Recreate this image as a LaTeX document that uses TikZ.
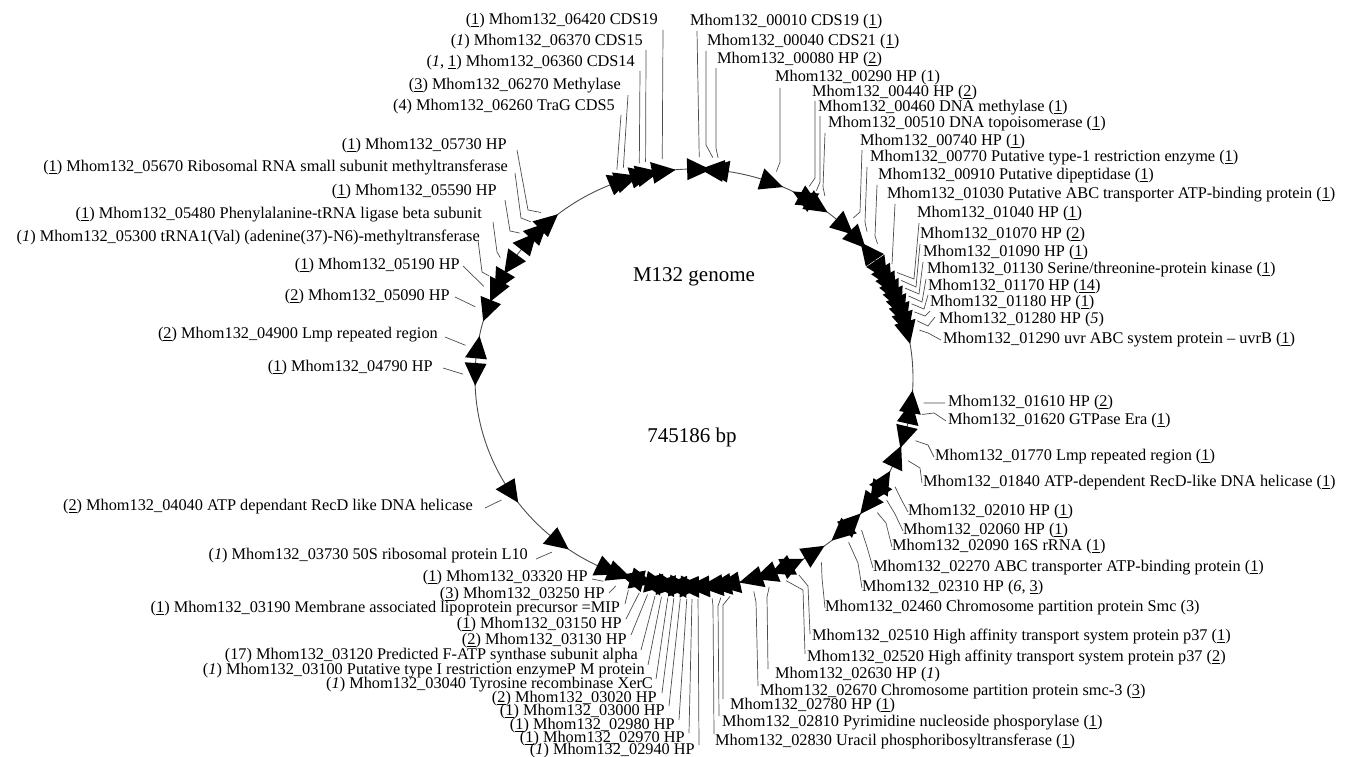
\documentclass[tikz,border=0pt]{standalone}
\usepackage{fontspec}
\setmainfont{Liberation Serif}
\usetikzlibrary{calc}
\newcommand\unum[1]{\underline{#1}}
\newcommand\inum[1]{\textit{#1}}
\newcommand\garrow[3]{%
  \fill[gene] ($(C)+({#2+(#3)*3.1}:219 and 209)$) -- ($(C)+({#2-(#3)*3.1}:230 and 220)$) -- ($(C)+({#2-(#3)*3.1}:208 and 198)$) -- cycle;
  \coordinate (o#1) at ($(C)+(#2:231 and 221)$);}
\begin{document}
\begin{tikzpicture}[x=1pt,y=-1pt,
  gene/.style={fill=black},
  ring/.style={draw=black!70,line width=0.9pt},
  lead/.style={draw=black!70,line width=0.7pt},
  lbl/.style={inner sep=0pt,font=\fontsize{16.3}{17}\selectfont},
  big/.style={inner sep=0pt,font=\fontsize{21}{24}\selectfont}]
\useasboundingbox (0,0) rectangle (1347,757);
\coordinate (C) at (694,378);
\draw[ring] (C) ellipse [x radius=219pt, y radius=209pt];
\node[big] (title) at (694,277) {M132 genome};
\node[big] (size) at (692,437) {745186 bp};
% genes
\garrow{06260}{-109.5}{1}
\garrow{06270}{-107.8}{1}
\garrow{06360}{-103.7}{1}
\garrow{06370}{-102.1}{1}
\garrow{06420}{-97.9}{1}
\garrow{00010}{-88.7}{1}
\garrow{00040}{-85.3}{-1}
\garrow{00080}{-84}{-1}
\garrow{00290}{-69.1}{1}
\garrow{00440}{-60.1}{-1}
\garrow{00460}{-58}{1}
\garrow{00510}{-55.5}{1}
\garrow{00740}{-46.4}{1}
\garrow{00770}{-41.5}{1}
\garrow{00910}{-37.4}{-1}
\garrow{01030}{-31}{1}
\garrow{01040}{-28.5}{1}
\garrow{01070}{-26.2}{1}
\garrow{01090}{-24}{1}
\garrow{01130}{-21.8}{1}
\garrow{01170}{-19.6}{1}
\garrow{01180}{-17.4}{1}
\garrow{01280}{-15}{1}
\garrow{01290}{-12.5}{1}
\garrow{01610}{6.5}{-1}
\garrow{01620}{9.5}{-1}
\garrow{01770}{16.5}{1}
\garrow{01840}{22}{-1}
\garrow{02010}{29.5}{-1}
\garrow{02060}{33.5}{1}
\garrow{02090}{37.5}{1}
\garrow{02270}{43.5}{-1}
\garrow{02310}{48}{1}
\garrow{02460}{56.5}{-1}
\garrow{02510}{63}{-1}
\garrow{02520}{66.5}{1}
\garrow{02630}{71}{1}
\garrow{02670}{75}{1}
\garrow{02780}{81}{1}
\garrow{02810}{83.3}{1}
\garrow{02830}{85.5}{1}
\garrow{02940}{89}{1}
\garrow{02970}{90.5}{-1}
\garrow{02980}{91.8}{1}
\garrow{03000}{93.4}{-1}
\garrow{03020}{95}{1}
\garrow{03040}{96.5}{-1}
\garrow{03100}{98.1}{1}
\garrow{03120}{99.7}{-1}
\garrow{03130}{101.6}{1}
\garrow{03150}{103.7}{-1}
\garrow{03190}{106.5}{1}
\garrow{03250}{109.8}{-1}
\garrow{03320}{113.1}{-1}
\garrow{03730}{128}{-1}
\garrow{04040}{146.5}{-1}
\garrow{04790}{181}{-1}
\garrow{04900}{188.5}{1}
\garrow{05090}{198.8}{-1}
\garrow{05190}{204.5}{-1}
\garrow{05300}{207.5}{-1}
\garrow{05480}{213}{-1}
\garrow{05590}{221}{1}
\garrow{05670}{225}{1}
\garrow{05730}{228.5}{1}
% labels top-left
\node[lbl,anchor=east] (l06420) at (658,21) {(\unum{1}) Mhom132\_06420 CDS19};
\node[lbl,anchor=east] (l06370) at (643,42) {(\inum{1}) Mhom132\_06370 CDS15};
\node[lbl,anchor=east] (l06360) at (635,63) {(\inum{1}, \unum{1}) Mhom132\_06360 CDS14};
\node[lbl,anchor=east] (l06270) at (621,86) {(\unum{3}) Mhom132\_06270 Methylase};
\node[lbl,anchor=east] (l06260) at (615,107) {(4) Mhom132\_06260 TraG CDS5};
% labels top-right
\node[lbl,anchor=west] (l00010) at (690,22) {Mhom132\_00010 CDS19 (\unum{1})};
\node[lbl,anchor=west] (l00040) at (707,42) {Mhom132\_00040 CDS21 (\unum{1})};
\node[lbl,anchor=west] (l00080) at (717,60) {Mhom132\_00080 HP (\unum{2})};
\node[lbl,anchor=west] (l00290) at (775,78) {Mhom132\_00290 HP (1)};
\node[lbl,anchor=west] (l00440) at (812,93) {Mhom132\_00440 HP (\unum{2})};
\node[lbl,anchor=west] (l00460) at (818,108) {Mhom132\_00460 DNA methylase (\unum{1})};
\node[lbl,anchor=west] (l00510) at (828,124) {Mhom132\_00510 DNA topoisomerase (\unum{1})};
\node[lbl,anchor=west] (l00740) at (860,142) {Mhom132\_00740 HP (\unum{1})};
\node[lbl,anchor=west] (l00770) at (870,158) {Mhom132\_00770 Putative type-1 restriction enzyme (\unum{1})};
\node[lbl,anchor=west] (l00910) at (878,176) {Mhom132\_00910 Putative dipeptidase (\unum{1})};
\node[lbl,anchor=west] (l01030) at (887,195) {Mhom132\_01030 Putative ABC transporter ATP-binding protein (\unum{1})};
\node[lbl,anchor=west] (l01040) at (917,214) {Mhom132\_01040 HP (\unum{1})};
\node[lbl,anchor=west] (l01070) at (920,235) {Mhom132\_01070 HP (\unum{2})};
\node[lbl,anchor=west] (l01090) at (923,253) {Mhom132\_01090 HP (\unum{1})};
\node[lbl,anchor=west] (l01130) at (927,270) {Mhom132\_01130 Serine/threonine-protein kinase (\unum{1})};
\node[lbl,anchor=west] (l01170) at (928,287) {Mhom132\_01170 HP (\unum{14})};
\node[lbl,anchor=west] (l01180) at (930,303) {Mhom132\_01180 HP (\unum{1})};
\node[lbl,anchor=west] (l01280) at (939,320) {Mhom132\_01280 HP (\inum{5})};
\node[lbl,anchor=west] (l01290) at (943,340) {Mhom132\_01290 uvr ABC system protein -- uvrB (\unum{1})};
% labels right-lower
\node[lbl,anchor=west] (l01610) at (948,403) {Mhom132\_01610 HP (\unum{2})};
\node[lbl,anchor=west] (l01620) at (948,421) {Mhom132\_01620 GTPase Era (\unum{1})};
\node[lbl,anchor=west] (l01770) at (935,457) {Mhom132\_01770 Lmp repeated region (\unum{1})};
\node[lbl,anchor=west] (l01840) at (923,483) {Mhom132\_01840 ATP-dependent RecD-like DNA helicase (\unum{1})};
\node[lbl,anchor=west] (l02010) at (908,512) {Mhom132\_02010 HP (\unum{1})};
\node[lbl,anchor=west] (l02060) at (903,531) {Mhom132\_02060 HP (\unum{1})};
\node[lbl,anchor=west] (l02090) at (892,547) {Mhom132\_02090 16S rRNA (\unum{1})};
\node[lbl,anchor=west] (l02270) at (873,568) {Mhom132\_02270 ABC transporter ATP-binding protein (\unum{1})};
\node[lbl,anchor=west] (l02310) at (862,588) {Mhom132\_02310 HP (\inum{6}, \unum{3})};
\node[lbl,anchor=west] (l02460) at (825,608) {Mhom132\_02460 Chromosome partition protein Smc (3)};
\node[lbl,anchor=west] (l02510) at (812,637) {Mhom132\_02510 High affinity transport system protein p37 (\unum{1})};
\node[lbl,anchor=west] (l02520) at (807,658) {Mhom132\_02520 High affinity transport system protein p37 (\unum{2})};
\node[lbl,anchor=west] (l02630) at (775,675) {Mhom132\_02630 HP (\inum{1})};
\node[lbl,anchor=west] (l02670) at (760,692) {Mhom132\_02670 Chromosome partition protein smc-3 (\unum{3})};
\node[lbl,anchor=west] (l02780) at (730,706) {Mhom132\_02780 HP (\unum{1})};
\node[lbl,anchor=west] (l02810) at (722,723) {Mhom132\_02810 Pyrimidine nucleoside phosporylase (\unum{1})};
\node[lbl,anchor=west] (l02830) at (715,742) {Mhom132\_02830 Uracil phosphoribosyltransferase (\unum{1})};
% labels left
\node[lbl,anchor=east] (l05730) at (507,146) {(\unum{1}) Mhom132\_05730 HP};
\node[lbl,anchor=east] (l05670) at (508,168) {(\unum{1}) Mhom132\_05670 Ribosomal RNA small subunit methyltransferase};
\node[lbl,anchor=east] (l05590) at (497,192) {(\unum{1}) Mhom132\_05590 HP};
\node[lbl,anchor=east] (l05480) at (482,215) {(\unum{1}) Mhom132\_05480 Phenylalanine-tRNA ligase beta subunit};
\node[lbl,anchor=east] (l05300) at (480,238) {(\inum{1}) Mhom132\_05300 tRNA1(Val) (adenine(37)-N6)-methyltransferase};
\node[lbl,anchor=east] (l05190) at (460,266) {(\unum{1}) Mhom132\_05190 HP};
\node[lbl,anchor=east] (l05090) at (450,297) {(\unum{2}) Mhom132\_05090 HP};
\node[lbl,anchor=east] (l04900) at (438,335) {(\unum{2}) Mhom132\_04900 Lmp repeated region};
\node[lbl,anchor=east] (l04790) at (433,368) {(\unum{1}) Mhom132\_04790 HP};
\node[lbl,anchor=east] (l04040) at (473,507) {(\unum{2}) Mhom132\_04040 ATP dependant RecD like DNA helicase};
\node[lbl,anchor=east] (l03730) at (528,556) {(\inum{1}) Mhom132\_03730 50S ribosomal protein L10};
% labels bottom
\node[lbl,anchor=east] (l03320) at (588,578) {(\unum{1}) Mhom132\_03320 HP};
\node[lbl,anchor=east] (l03250) at (605,595) {(\unum{3}) Mhom132\_03250 HP};
\node[lbl,anchor=east] (l03190) at (620,609) {(\unum{1}) Mhom132\_03190 Membrane associated lipoprotein precursor =MIP};
\node[lbl,anchor=east] (l03150) at (622,625) {(\unum{1}) Mhom132\_03150 HP};
\node[lbl,anchor=east] (l03130) at (627,641) {(\unum{2}) Mhom132\_03130 HP};
\node[lbl,anchor=east] (l03120) at (638,656) {(17) Mhom132\_03120 Predicted F-ATP synthase subunit alpha};
\node[lbl,anchor=east] (l03100) at (645,671) {(\inum{1}) Mhom132\_03100 Putative type I restriction enzymeP M protein};
\node[lbl,anchor=east] (l03040) at (653,685) {(\inum{1}) Mhom132\_03040 Tyrosine recombinase XerC};
\node[lbl,anchor=east] (l03020) at (657,699) {(\unum{2}) Mhom132\_03020 HP};
\node[lbl,anchor=east] (l03000) at (665,712) {(\unum{1}) Mhom132\_03000 HP};
\node[lbl,anchor=east] (l02980) at (675,726) {(\unum{1}) Mhom132\_02980 HP};
\node[lbl,anchor=east] (l02970) at (685,739) {(\unum{1}) Mhom132\_02970 HP};
\node[lbl,anchor=east] (l02940) at (695,751) {(\inum{1}) Mhom132\_02940 HP};
% leaders top-left
\draw[lead] ($(l06420.east)+(5,9)$) -- (o06420);
\draw[lead] ($(l06370.east)+(3,8)$) -- (o06370);
\draw[lead] ($(l06360.east)+(5,8)$) -- (o06360);
\draw[lead] ($(l06270.east)+(7,9)$) -- (o06270);
\draw[lead] ($(l06260.east)+(6,8)$) -- (o06260);
% leaders top-right
\draw[lead] ($(l00010.west)+(7,9)$) -- (o00010);
\draw[lead] ($(l00040.west)+(-1,9)$) -- (706,145) -- (o00040);
\draw[lead] ($(l00080.west)+(-1,8)$) -- (716,148) -- (o00080);
\draw[lead] ($(l00290.west)+(5,10)$) -- (780,162) -- (o00290);
\draw[lead] ($(l00440.west)+(3,8)$) -- (815,178) -- (o00440);
\draw[lead] ($(l00460.west)+(2,8)$) -- (820,182) -- (o00460);
\draw[lead] ($(l00510.west)+(-3,9)$) -- (823,187) -- (o00510);
\draw[lead] ($(l00740.west)+(2,8)$) -- (860,212) -- (o00740);
\draw[lead] ($(l00770.west)+(-3,9)$) -- (865,222) -- (o00770);
\draw[lead] ($(l00910.west)+(-1,9)$) -- (875,236) -- (o00910);
\draw[lead] ($(l01030.west)+(8,9)$) -- (o01030);
\draw[lead] ($(l01040.west)+(2,9)$) -- (914,279) -- (o01040);
\draw[lead] ($(l01070.west)+(0,9)$) -- (916,287) -- (o01070);
\draw[lead] ($(l01090.west)+(0,9)$) -- (919,294) -- (o01090);
\draw[lead] ($(l01130.west)+(-1,9)$) -- (922,302) -- (o01130);
\draw[lead] ($(l01170.west)+(0,8)$) -- (924,309) -- (o01170);
\draw[lead] ($(l01180.west)+(0,8)$) -- (925,316) -- (o01180);
\draw[lead] ($(l01280.west)+(-4,-3)$) -- (928,326) -- (o01280);
\draw[lead] ($(l01290.west)+(-2,0)$) -- (928,333) -- (o01290);
% leaders right-lower
\draw[lead] ($(l01610.west)+(-3,0)$) -- (o01610);
\draw[lead] ($(l01620.west)+(-2,0)$) -- (934,413) -- (o01620);
\draw[lead] ($(l01770.west)+(-1,0)$) -- (928,445) -- (o01770);
\draw[lead] ($(l01840.west)+(-1,0)$) -- (920,468) -- (o01840);
\draw[lead] (l02010.west) -- (901,499) -- (o02010);
\draw[lead] (l02060.west) -- (895,514) -- (o02060);
\draw[lead] (l02090.west) -- (886,523) -- (o02090);
\draw[lead] (l02270.west) -- (867,547) -- (o02270);
\draw[lead] (l02310.west) -- (858,563) -- (o02310);
\draw[lead] (l02460.west) -- (822,578) -- (o02460);
\draw[lead] ($(l02510.west)+(-2,-3)$) -- (808,586) -- (o02510);
\draw[lead] ($(l02520.west)+(-2,-4)$) -- (803,590) -- (o02520);
\draw[lead] ($(l02630.west)+(-7,-6)$) -- (767,597) -- (o02630);
\draw[lead] ($(l02670.west)+(-2,-6)$) -- (756,602) -- (o02670);
\draw[lead] ($(l02780.west)+(-7,-7)$) -- (723,605) -- (o02780);
\draw[lead] ($(l02810.west)+(-3,-7)$) -- (718,606) -- (o02810);
\draw[lead] ($(l02830.west)+(-1,-8)$) -- (713,606) -- (o02830);
% leaders left
\draw[lead] ($(l05730.east)+(10,4)$) -- (528,210) -- (o05730);
\draw[lead] ($(l05670.east)+(7,5)$) -- (521,218) -- (o05670);
\draw[lead] ($(l05590.east)+(8,8)$) -- (510,231) -- (o05590);
\draw[lead] ($(l05480.east)+(11,7)$) -- (497,252) -- (o05480);
\draw[lead] ($(l05300.east)+(-2,2)$) -- (482,272) -- (o05300);
\draw[lead] ($(l05190.east)+(3,0)$) -- (o05190);
\draw[lead] ($(l05090.east)+(5,0)$) -- (o05090);
\draw[lead] ($(l04900.east)+(7,2)$) -- (o04900);
\draw[lead] ($(l04790.east)+(10,0)$) -- (o04790);
\draw[lead] ($(l04040.east)+(12,1)$) -- (o04040);
\draw[lead] ($(l03730.east)+(8,3)$) -- (o03730);
% leaders bottom
\draw[lead] ($(l03320.east)+(4,1)$) -- (o03320);
\draw[lead] ($(l03250.east)+(4,-2)$) -- (o03250);
\draw[lead] ($(l03190.east)+(5,-5)$) -- (o03190);
\draw[lead] ($(l03150.east)+(4,-6)$) -- (o03150);
\draw[lead] ($(l03130.east)+(4,-6)$) -- (o03130);
\draw[lead] ($(l03120.east)+(3,-6)$) -- (o03120);
\draw[lead] ($(l03100.east)+(3,-6)$) -- (o03100);
\draw[lead] ($(l03040.east)+(3,-6)$) -- (o03040);
\draw[lead] ($(l03020.east)+(5,-6)$) -- (o03020);
\draw[lead] ($(l03000.east)+(4,-6)$) -- (o03000);
\draw[lead] ($(l02980.east)+(4,-6)$) -- (o02980);
\draw[lead] ($(l02970.east)+(4,-6)$) -- (o02970);
\draw[lead] ($(l02940.east)+(4,-6)$) -- (o02940);
\end{tikzpicture}
\end{document}
